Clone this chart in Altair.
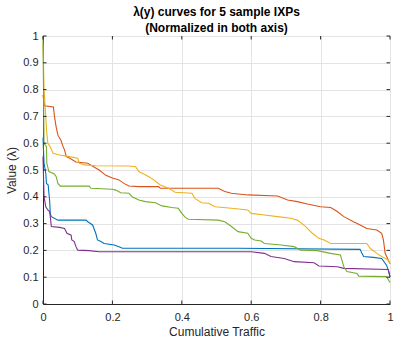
import altair as alt
import pandas as pd

# Series data
blue_x = [0, 0.003, 0.008, 0.01, 0.015, 0.017, 0.019, 0.021, 0.024, 0.043, 0.124, 0.129, 0.143, 0.152, 0.157, 0.167, 0.176, 0.205, 0.219, 0.229, 0.562, 0.914, 0.919, 0.924, 0.952, 0.976, 0.99, 0.998, 1.0]
blue_y = [0.62, 0.525, 0.488, 0.45, 0.444, 0.413, 0.388, 0.338, 0.326, 0.313, 0.313, 0.307, 0.295, 0.264, 0.239, 0.233, 0.226, 0.22, 0.214, 0.208, 0.208, 0.204, 0.189, 0.177, 0.174, 0.17, 0.145, 0.114, 0.10]

red_x = [0, 0.004, 0.03, 0.033, 0.038, 0.043, 0.052, 0.057, 0.062, 0.067, 0.076, 0.095, 0.129, 0.148, 0.162, 0.181, 0.2, 0.219, 0.233, 0.248, 0.276, 0.333, 0.338, 0.505, 0.524, 0.543, 0.59, 0.676, 0.705, 0.733, 0.762, 0.8, 0.829, 0.848, 0.867, 0.895, 0.914, 0.933, 0.962, 0.976, 0.981, 0.986, 0.995, 1.0]
red_y = [0.78, 0.74, 0.735, 0.70, 0.66, 0.63, 0.61, 0.59, 0.575, 0.55, 0.545, 0.53, 0.525, 0.51, 0.50, 0.48, 0.47, 0.463, 0.45, 0.44, 0.438, 0.438, 0.432, 0.432, 0.42, 0.413, 0.407, 0.403, 0.388, 0.382, 0.373, 0.363, 0.36, 0.345, 0.326, 0.307, 0.295, 0.282, 0.276, 0.264, 0.239, 0.189, 0.164, 0.15]

yellow_x = [0, 0.003, 0.008, 0.01, 0.014, 0.021, 0.029, 0.048, 0.076, 0.1, 0.105, 0.119, 0.152, 0.248, 0.267, 0.276, 0.29, 0.305, 0.319, 0.338, 0.362, 0.381, 0.429, 0.438, 0.457, 0.477, 0.496, 0.543, 0.59, 0.6, 0.638, 0.676, 0.714, 0.733, 0.757, 0.776, 0.795, 0.81, 0.829, 0.933, 0.943, 0.962, 0.976, 0.995, 1.0]
yellow_y = [0.97, 0.80, 0.70, 0.65, 0.60, 0.587, 0.562, 0.556, 0.55, 0.544, 0.525, 0.519, 0.516, 0.515, 0.512, 0.494, 0.485, 0.475, 0.463, 0.444, 0.432, 0.417, 0.413, 0.394, 0.378, 0.376, 0.363, 0.357, 0.351, 0.338, 0.332, 0.326, 0.32, 0.313, 0.289, 0.264, 0.245, 0.239, 0.226, 0.226, 0.208, 0.189, 0.177, 0.164, 0.15]

purple_x = [0, 0.003, 0.008, 0.014, 0.019, 0.021, 0.024, 0.048, 0.062, 0.069, 0.081, 0.083, 0.09, 0.095, 0.1, 0.133, 0.162, 0.6, 0.638, 0.657, 0.695, 0.724, 0.781, 0.795, 0.848, 0.867, 0.995, 1.0]
purple_y = [0.55, 0.40, 0.363, 0.351, 0.345, 0.326, 0.289, 0.286, 0.282, 0.264, 0.257, 0.239, 0.233, 0.214, 0.201, 0.199, 0.195, 0.195, 0.189, 0.177, 0.17, 0.158, 0.154, 0.142, 0.139, 0.133, 0.129, 0.10]

green_x = [0, 0.003, 0.01, 0.011, 0.017, 0.033, 0.038, 0.043, 0.05, 0.133, 0.138, 0.2, 0.21, 0.224, 0.248, 0.257, 0.276, 0.295, 0.324, 0.343, 0.371, 0.39, 0.4, 0.41, 0.419, 0.505, 0.524, 0.543, 0.562, 0.59, 0.6, 0.61, 0.629, 0.638, 0.686, 0.724, 0.743, 0.79, 0.829, 0.857, 0.867, 0.876, 0.905, 0.91, 0.99, 1.0]
green_y = [1.0, 0.60, 0.587, 0.525, 0.494, 0.485, 0.475, 0.45, 0.44, 0.44, 0.432, 0.428, 0.425, 0.415, 0.413, 0.40, 0.388, 0.382, 0.378, 0.366, 0.36, 0.357, 0.338, 0.323, 0.316, 0.313, 0.307, 0.289, 0.27, 0.264, 0.245, 0.239, 0.235, 0.226, 0.22, 0.214, 0.201, 0.199, 0.189, 0.183, 0.139, 0.121, 0.114, 0.104, 0.102, 0.08]

series_names = ["IXP 1", "IXP 2", "IXP 3", "IXP 4", "IXP 5"]
series_colors = ["#0072BD", "#D95319", "#EDB120", "#7E2F8E", "#77AC30"]
series_xy = [(blue_x, blue_y), (red_x, red_y), (yellow_x, yellow_y),
             (purple_x, purple_y), (green_x, green_y)]

tick_vals = [0, 0.1, 0.2, 0.3, 0.4, 0.5, 0.6, 0.7, 0.8, 0.9, 1.0]
xtick_vals = [0, 0.2, 0.4, 0.6, 0.8, 1.0]

rows = []
for name, (xs, ys) in zip(series_names, series_xy):
    for i, (x, y) in enumerate(zip(xs, ys)):
        rows.append({"series": name, "x": x, "y": y, "i": i})
df = pd.DataFrame(rows)

FONT = "Liberation Sans"
DARK = "#262626"
W, H = 347, 268

xscale = alt.Scale(domain=[0, 1], nice=False, zero=False)
yscale = alt.Scale(domain=[0, 1], nice=False, zero=False)

common = dict(grid=True, gridColor="#e3e3e3", tickSize=0, labelOverlap=False,
              labelFlush=False, labelBound=False,
              domainColor=DARK, labelColor=DARK, titleColor=DARK,
              labelFontSize=11, titleFontSize=12, titleFontWeight="normal",
              labelFont=FONT, titleFont=FONT)

x_axis = alt.Axis(values=xtick_vals, format="~g", title="Cumulative Traffic",
                  labelPadding=7, titlePadding=4, **common)
y_axis = alt.Axis(values=tick_vals, format="~g", title="Value (λ)",
                  labelPadding=5, titlePadding=4, **common)

lines = alt.Chart(df).mark_line(strokeWidth=1.1).encode(
    x=alt.X("x:Q", scale=xscale, axis=x_axis),
    y=alt.Y("y:Q", scale=yscale, axis=y_axis),
    color=alt.Color("series:N", scale=alt.Scale(domain=series_names, range=series_colors), legend=None),
    order="i:Q",
)

xt = pd.DataFrame({"v": xtick_vals})
yt = pd.DataFrame({"v": tick_vals})
bottom_ticks = alt.Chart(xt).mark_rule(color=DARK, strokeWidth=1).encode(
    x=alt.X("v:Q", scale=xscale, axis=x_axis), y=alt.value(H), y2=alt.value(H - 3.5))
top_ticks = alt.Chart(xt).mark_rule(color=DARK, strokeWidth=1).encode(
    x=alt.X("v:Q", scale=xscale, axis=x_axis), y=alt.value(0), y2=alt.value(3.5))
left_ticks = alt.Chart(yt).mark_rule(color=DARK, strokeWidth=1).encode(
    y=alt.Y("v:Q", scale=yscale, axis=y_axis), x=alt.value(0), x2=alt.value(3.5))
right_ticks = alt.Chart(yt).mark_rule(color=DARK, strokeWidth=1).encode(
    y=alt.Y("v:Q", scale=yscale, axis=y_axis), x=alt.value(W), x2=alt.value(W - 3.5))

chart = alt.layer(lines, bottom_ticks, top_ticks, left_ticks, right_ticks).properties(
    width=W, height=H,
    title=alt.TitleParams(["λ(y) curves for 5 sample IXPs", "(Normalized in both axis)"],
                          font=FONT, fontSize=12, fontWeight="bold", color="#000000",
                          anchor="middle", offset=3, lineHeight=16, dy=8),
    autosize=alt.AutoSizeParams(type="none"),
    padding={"left": 43, "top": 36, "right": 4, "bottom": 37},
).configure_view(stroke=DARK, strokeWidth=1).configure(background="white")

chart.save("out.html", embed_options={"renderer": "svg", "actions": False})
